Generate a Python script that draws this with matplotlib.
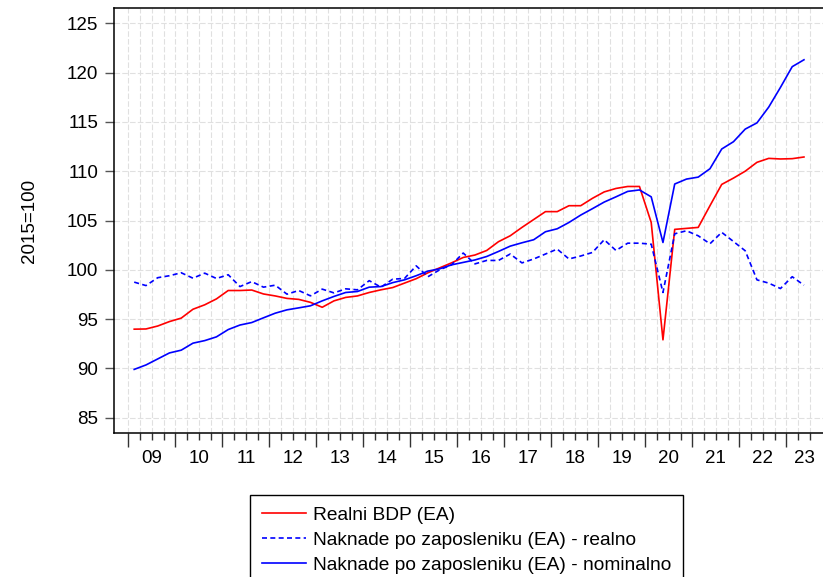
import numpy as np
import matplotlib
matplotlib.use('Agg')
import matplotlib.pyplot as plt

plt.rcParams['font.family'] = ['Liberation Sans', 'DejaVu Sans']

# Quarterly data, 2009Q1 - 2023Q2 (index 2015=100)
years = ['09', '10', '11', '12', '13', '14', '15', '16', '17', '18', '19', '20', '21', '22', '23']

real_gdp = [93.98, 94.0, 94.3, 94.75, 95.1, 96.0, 96.45, 97.05, 97.9, 97.9, 97.95, 97.55, 97.35, 97.1, 97.0,
            96.7, 96.2, 96.85, 97.2, 97.35, 97.7, 97.97, 98.2, 98.65, 99.1, 99.7, 100.2, 100.7, 101.25, 101.5,
            101.96, 102.85, 103.45, 104.3, 105.1, 105.9, 105.9, 106.5, 106.5, 107.25, 107.9, 108.25, 108.45, 108.45,
            104.8, 92.9, 104.1, 104.2, 104.3, 106.5, 108.66, 109.3, 110.0, 110.9, 111.3, 111.24, 111.27, 111.44]

comp_real = [98.75, 98.4, 99.2, 99.4, 99.7, 99.15, 99.66, 99.12, 99.5, 98.3, 98.8, 98.24, 98.44, 97.53, 97.9,
             97.36, 98.04, 97.66, 98.07, 97.97, 98.9, 98.24, 99.05, 99.12, 100.4, 99.3, 100.0, 100.5, 101.7, 100.6,
             100.95, 100.95, 101.6, 100.7, 101.1, 101.6, 102.1, 101.1, 101.4, 101.76, 103.05, 101.96, 102.7, 102.7,
             102.6, 97.7, 103.65, 103.96, 103.45, 102.64, 103.8, 102.87, 101.93, 98.98, 98.65, 98.1, 99.3, 98.44]

comp_nominal = [89.9, 90.35, 90.96, 91.57, 91.85, 92.56, 92.82, 93.2, 93.94, 94.4, 94.65, 95.13, 95.6, 95.94, 96.14,
                96.35, 96.85, 97.3, 97.7, 97.8, 98.24, 98.3, 98.7, 98.98, 99.4, 99.87, 100.1, 100.5, 100.75, 101.0,
                101.35, 101.86, 102.4, 102.74, 103.05, 103.86, 104.16, 104.8, 105.55, 106.2, 106.87, 107.4, 107.95, 108.1,
                107.4, 102.77, 108.7, 109.2, 109.4, 110.25, 112.25, 112.99, 114.27, 114.9, 116.5, 118.5, 120.6, 121.3]

labels = ['Realni BDP (EA)',
          'Naknade po zaposleniku (EA) - realno',
          'Naknade po zaposleniku (EA) - nominalno']

n = len(real_gdp)
x = np.arange(n)

W, H = 823, 577
fig = plt.figure(figsize=(W / 100, H / 100), dpi=100)
ax = fig.add_axes([114 / W, 1 - 433 / H, 709 / W, 425 / H])

l1, = ax.plot(x, real_gdp, color='#ff0000', lw=1.2)
l2, = ax.plot(x, comp_real, color='#0000ff', lw=1.2, dashes=(3, 2))
l3, = ax.plot(x, comp_nominal, color='#0000ff', lw=1.2)

ax.set_xlim(-1.72, 58.62)
ax.set_ylim(83.45, 126.55)

# ticks: long at year boundaries, short at quarter boundaries
ax.set_xticks(np.arange(-0.5, n, 4))
ax.set_xticks(np.arange(-0.5, n + 0.5, 1), minor=True)
ax.set_xticklabels([])
ax.set_yticks(np.arange(85, 126, 5))
ax.tick_params(axis='x', which='major', length=10, width=1, color='#333333', direction='out')
ax.tick_params(axis='x', which='minor', length=5, width=1, color='#333333', direction='out')
ax.tick_params(axis='y', length=6.5, width=1, color='#555555', labelsize=13.5, pad=5)

ax.grid(True, axis='y', color='#e0e0e0', lw=0.8, dashes=(5, 2))
ax.grid(True, axis='x', which='both', color='#e0e0e0', lw=0.8, dashes=(5, 2))

label_pos = [4 * k + 1.5 for k in range(len(years) - 1)] + [57.0]
for p, yl in zip(label_pos, years):
    ax.text(p, -0.061, yl, transform=ax.get_xaxis_transform(), ha='center', va='center', fontsize=13.5)

ax.spines['right'].set_visible(False)
for s in ['left', 'bottom', 'top']:
    ax.spines[s].set_color('black')
    ax.spines[s].set_linewidth(1.1)

fig.text(30 / W, 1 - 221 / H, '2015=100', rotation=90, ha='center', va='center', fontsize=13.5)

leg = fig.legend([l1, l2, l3], labels, loc='upper left', bbox_to_anchor=(250 / W, 1 - 495 / H),
                 borderaxespad=0, fontsize=13.8, frameon=True, fancybox=False, edgecolor='black',
                 framealpha=1, handlelength=2.3, handletextpad=0.4, labelspacing=0.4, borderpad=0.6)
leg.get_frame().set_linewidth(1.0)

fig.savefig('out.png', dpi=100)
